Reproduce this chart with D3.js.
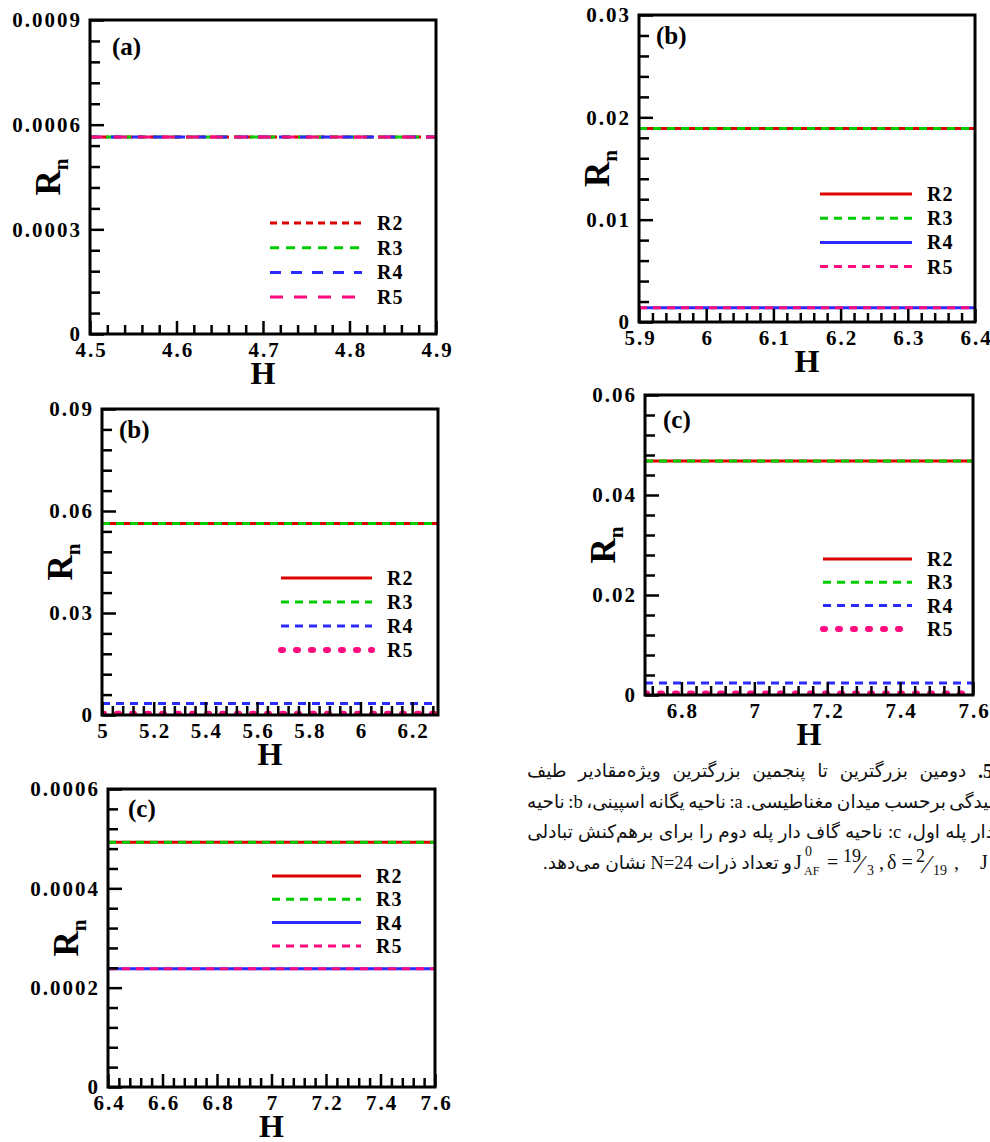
<!DOCTYPE html>
<html>
<head>
<meta charset="utf-8">
<script src="https://cdn.jsdelivr.net/npm/d3@7"></script>
<style>
  body { margin: 0; background: #fff; }
  #wrap { position: relative; width: 990px; height: 1142px; overflow: hidden; }
  .cap { position: absolute; direction: rtl; display: flex; flex-wrap: nowrap; justify-content: space-between;
         font-family: "Liberation Serif", "DejaVu Sans", serif; font-size: 18.5px; color: #111;
         white-space: nowrap; line-height: 22px; }
  .cap b { font-weight: bold; font-size: 20px; }
</style>
</head>
<body>
<div id="wrap"><svg id="fig" width="990" height="1142"></svg></div>
<script>
// series names and colours (same in every panel)
const seriesNames = ["R2", "R3", "R4", "R5"];
const seriesColors = ["#dd0000", "#00cc00", "#2b2bff", "#ff0a7f"];

// panel (a)
const aH = [4.5, 4.9];
const aR = [0.000565, 0.000565, 0.000565, 0.000565];
const aXTicks = [4.5, 4.6, 4.7, 4.8, 4.9];
const aYTicks = [0, 0.0003, 0.0006, 0.0009];

// panel (b) top right
const b1H = [5.9, 6.4];
const b1R = [0.0189, 0.0189, 0.0014, 0.0014];
const b1XTicks = [5.9, 6, 6.1, 6.2, 6.3, 6.4];
const b1YTicks = [0, 0.01, 0.02, 0.03];

// panel (b) middle left
const b2H = [5, 6.3];
const b2R = [0.0563, 0.0563, 0.0034, 0.0004];
const b2XTicks = [5, 5.2, 5.4, 5.6, 5.8, 6, 6.2];
const b2YTicks = [0, 0.03, 0.06, 0.09];

// panel (c) middle right
const c1H = [6.7, 7.6];
const c1R = [0.0468, 0.0468, 0.0024, 0.0003];
const c1XTicks = [6.8, 7, 7.2, 7.4, 7.6];
const c1YTicks = [0, 0.02, 0.04, 0.06];

// panel (c) bottom left
const c2H = [6.4, 7.6];
const c2R = [0.000493, 0.000493, 0.000238, 0.000238];
const c2XTicks = [6.4, 6.6, 6.8, 7, 7.2, 7.4, 7.6];
const c2YTicks = [0, 0.0002, 0.0004, 0.0006];

// line styles
const styleA = [{ dash: "7,5" }, { dash: "9,7" }, { dash: "11,10" }, { dash: "13,11" }];
const styleSolid = [{ dash: null }, { dash: "8,6" }, { dash: null }, { dash: "8,6" }];
const styleDot = [{ dash: null }, { dash: "8,6" }, { dash: "8,6" }, { dash: "2,13", w: 6, cap: "round" }];

const panels = [
  { tag: "(a)", H: aH, R: aR, xt: aXTicks, yt: aYTicks, xMinor: 0.02, yMinor: 0.00006,
    box: [90, 20, 436, 334], tagPos: [112, 55], leg: [270, 362, 223, 24.7], style: styleA },
  { tag: "(b)", H: b1H, R: b1R, xt: b1XTicks, yt: b1YTicks, xMinor: 0.02, yMinor: 0.002,
    box: [639, 15, 975, 322], tagPos: [656, 44], leg: [820, 912, 194, 24.2], style: styleSolid },
  { tag: "(b)", H: b2H, R: b2R, xt: b2XTicks, yt: b2YTicks, xMinor: 0.04, yMinor: 0.006,
    box: [102, 409, 438, 715], tagPos: [119, 438], leg: [281, 372, 578, 24], style: styleDot },
  { tag: "(c)", H: c1H, R: c1R, xt: c1XTicks, yt: c1YTicks, xMinor: 0.04, yMinor: 0.004,
    box: [645, 395, 973, 695], tagPos: [663, 428], leg: [823, 912, 559, 23.3], style: styleDot },
  { tag: "(c)", H: c2H, R: c2R, xt: c2XTicks, yt: c2YTicks, xMinor: 0.04, yMinor: 0.00004,
    box: [108, 789, 435, 1087], tagPos: [128, 817], leg: [272, 361, 876, 23.3], style: styleSolid }
];

const serif = '"Liberation Serif", "Times New Roman", serif';
const svg = d3.select("#fig");
const fmt = (d) => (d === 0 ? "0" : String(d));

function minorTicks(domain, step, majors) {
  const k0 = Math.ceil(domain[0] / step - 1e-6);
  const k1 = Math.floor(domain[1] / step + 1e-6);
  return d3.range(k0, k1 + 1)
    .map((k) => +(k * step).toFixed(8))
    .filter((v) => !majors.some((m) => Math.abs(m - v) < step / 10));
}

function applyStroke(sel, st, color) {
  sel.attr("stroke", color)
    .attr("stroke-width", st.w || 3)
    .attr("stroke-linecap", st.cap || "butt")
    .attr("fill", "none");
  if (st.dash) sel.attr("stroke-dasharray", st.dash);
}

function boldText(sel, size) {
  return sel.style("font-family", serif).style("font-weight", "bold")
    .style("font-size", size + "px").attr("fill", "#000");
}

panels.forEach((p, pi) => {
  const [x0, y0, x1, y1] = p.box;
  const g = svg.append("g");

  const x = d3.scaleLinear().domain([p.H[0], p.H[1]]).range([x0, x1]);
  const y = d3.scaleLinear().domain([p.yt[0], p.yt[p.yt.length - 1]]).range([y1, y0]);

  const clipId = "clip" + pi;
  svg.append("clipPath").attr("id", clipId)
    .append("rect").attr("x", x0).attr("y", y0).attr("width", x1 - x0).attr("height", y1 - y0);

  // curves: each Rn is flat over the H range
  const line = d3.line().x((d) => x(d[0])).y((d) => y(d[1]));
  p.R.forEach((v, i) => {
    const pts = p.H.map((h) => [h, v]);
    g.append("path").datum(pts).attr("d", line)
      .attr("clip-path", `url(#${clipId})`)
      .call(applyStroke, p.style[i], seriesColors[i]);
  });

  // minor ticks
  g.append("g").attr("transform", `translate(0,${y1})`)
    .call(d3.axisBottom(x).tickValues(minorTicks(x.domain(), p.xMinor, p.xt)).tickSize(-9).tickFormat(""))
    .call((a) => a.select(".domain").remove());
  g.append("g").attr("transform", `translate(${x0},0)`)
    .call(d3.axisLeft(y).tickValues(minorTicks(y.domain(), p.yMinor, p.yt)).tickSize(-10).tickFormat(""))
    .call((a) => a.select(".domain").remove());

  // major ticks
  const xa = g.append("g").attr("transform", `translate(0,${y1})`)
    .call(d3.axisBottom(x).tickValues(p.xt).tickSize(-13).tickPadding(8).tickFormat(fmt));
  const ya = g.append("g").attr("transform", `translate(${x0},0)`)
    .call(d3.axisLeft(y).tickValues(p.yt).tickSize(-14).tickPadding(8).tickFormat(fmt));
  [xa, ya].forEach((a) => {
    a.select(".domain").remove();
    a.selectAll("text").call(boldText, 21).style("letter-spacing", "2px");
  });
  xa.selectAll("text").attr("dx", 1);
  g.selectAll(".tick line").attr("stroke", "#000").attr("stroke-width", 2.5);

  // frame
  g.append("rect").attr("x", x0).attr("y", y0).attr("width", x1 - x0).attr("height", y1 - y0)
    .attr("fill", "none").attr("stroke", "#000").attr("stroke-width", 3);

  // axis titles
  g.append("text").attr("x", (x0 + x1) / 2).attr("y", y1 + 50)
    .attr("text-anchor", "middle").call(boldText, 32).text("H");
  const ry = g.append("text")
    .attr("transform", `translate(${x0 - 30},${(y0 + y1) / 2}) rotate(-90)`)
    .attr("text-anchor", "middle").call(boldText, 35);
  ry.append("tspan").text("R");
  ry.append("tspan").style("font-size", "21px").attr("dy", 8).text("n");

  // panel tag
  g.append("text").attr("x", p.tagPos[0]).attr("y", p.tagPos[1])
    .call(boldText, 25).text(p.tag);

  // legend
  const [lx0, lx1, ly0, ldy] = p.leg;
  seriesNames.forEach((name, i) => {
    const ly = ly0 + i * ldy;
    g.append("line").attr("x1", lx0).attr("x2", lx1).attr("y1", ly).attr("y2", ly)
      .call(applyStroke, p.style[i], seriesColors[i]);
    g.append("text").attr("x", lx1 + 15).attr("y", ly).attr("dy", "0.35em")
      .call(boldText, 20).style("letter-spacing", "1px").text(name);
  });
});

// caption (Persian, right-to-left, partly cut at the right edge)
const capLines = [
  { top: 760, left: 527, right: 993, words: ["<b>5.</b>", "دومین", "بزرگترین", "تا", "پنجمین", "بزرگترین", "ویژه‌مقادیر", "طیف"] },
  { top: 791, left: 527, right: 994, words: ["نیدگی", "برحسب", "میدان", "مغناطیسی.", "a:", "ناحیه", "یگانه", "اسپینی،", "b:", "ناحیه"] },
  { top: 821, left: 527, right: 994, words: ["دار", "پله", "اول،", "c:", "ناحیه", "گاف", "دار", "پله", "دوم", "را", "برای", "برهم‌کنش", "تبادلی"] },
  { top: 852, left: 543, right: 792, words: ["و", "تعداد", "ذرات", "N=24", "نشان", "می‌دهد."] }
];
const wrap = d3.select("#wrap");
capLines.forEach((c) => {
  const row = wrap.append("div").attr("class", "cap")
    .style("left", c.left + "px").style("width", (c.right - c.left) + "px").style("top", c.top + "px");
  c.words.forEach((w) => row.append("span").html(w));
});

// math part of the last caption line
const m = svg.append("g");
const mt = (xx, yy, s, size) =>
  m.append("text").attr("x", xx).attr("y", yy)
    .style("font-family", serif).style("font-weight", "normal").style("font-size", (size || 20) + "px")
    .attr("fill", "#111").text(s);
mt(794, 869, "J");
mt(805, 856, "0", 14);
mt(804, 875, "AF", 12);
mt(827, 869, "=");
mt(843, 862, "19", 18);
mt(858, 873, "⁄", 26);
mt(867, 875, "3", 14);
mt(879, 869, ",");
mt(887, 869, "δ = ");
mt(916, 862, "2", 18);
mt(925, 873, "⁄", 26);
mt(933, 875, "19", 14);
mt(954, 869, ",");
mt(980, 869, "J");
</script>
</body>
</html>
